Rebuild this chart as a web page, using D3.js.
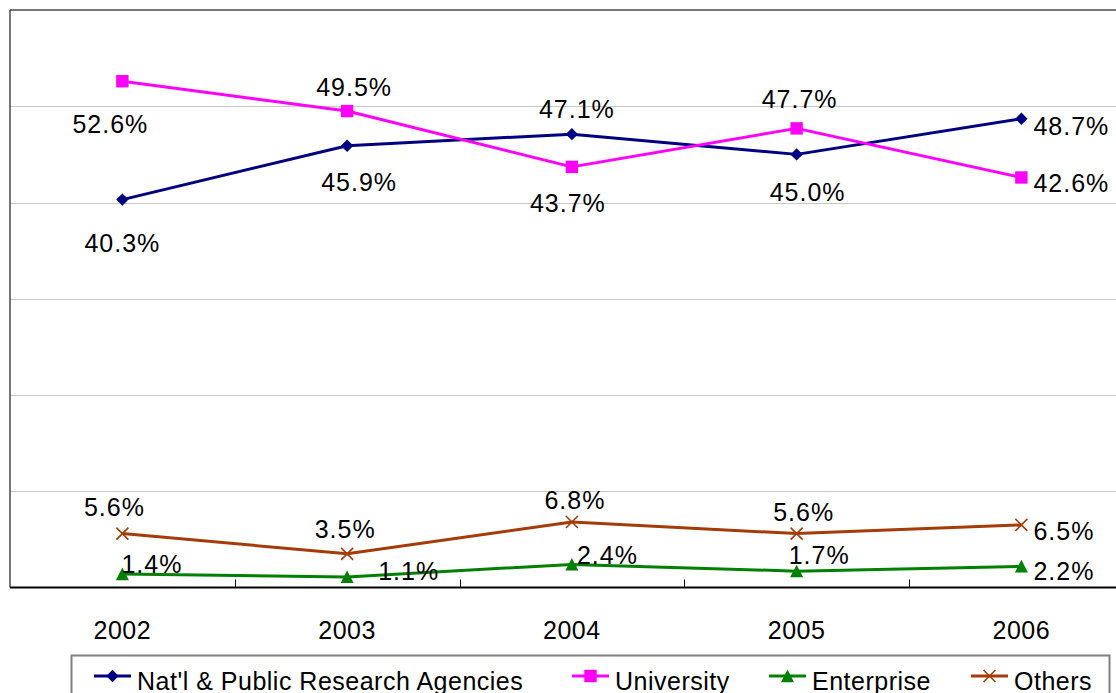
<!DOCTYPE html>
<html>
<head>
<meta charset="utf-8">
<script src="https://cdn.jsdelivr.net/npm/d3@7"></script>
<style>
  html, body { margin: 0; padding: 0; background: #fff; overflow: hidden; }
  svg { display: block; font-family: "Liberation Sans", Arial, sans-serif; }
</style>
</head>
<body>
<svg id="chart" width="1116" height="693"></svg>
<script>
// Share of research output by sector, 2002-2006 (percent)
const years = ["2002", "2003", "2004", "2005", "2006"];
const seriesNames = ["Nat'l & Public Research Agencies", "University", "Enterprise", "Others"];
const nationalValues = [40.3, 45.9, 47.1, 45.0, 48.7];
const universityValues = [52.6, 49.5, 43.7, 47.7, 42.6];
const enterpriseValues = [1.4, 1.1, 2.4, 1.7, 2.2];
const otherValues = [5.6, 3.5, 6.8, 5.6, 6.5];
const yTicks = [0, 10, 20, 30, 40, 50, 60];

const colors = ["#000080", "#FF00FF", "#008000", "#A33C08"];
const markers = ["diamond", "square", "triangle", "cross"];

// Label offsets relative to each point: [dx, dy, anchor]
const labelOffsets = [
  [[0, 52, "middle"], [12, 45, "middle"], [5, -16, "middle"], [11, 47, "middle"], [12, 16, "start"]],
  [[-12, 52, "middle"], [7, -15, "middle"], [-4, 45, "middle"], [3, -20, "middle"], [12, 15, "start"]],
  [[-1, -1, "start"], [31, 3, "start"], [5, 0, "start"], [-8, -7, "start"], [12, 14, "start"]],
  [[-8, -18, "middle"], [-2, -16, "middle"], [3, -13, "middle"], [7, -13, "middle"], [12, 15, "start"]]
];

const series = [nationalValues, universityValues, enterpriseValues, otherValues].map((values, i) => ({
  name: seriesNames[i], values, color: colors[i], marker: markers[i], offsets: labelOffsets[i]
}));

const svg = d3.select("#chart");
const plot = { left: 10, top: 10, bottom: 587.5, step: 224.75 };

const x = d3.scaleBand().domain(years).range([plot.left, plot.left + plot.step * years.length]).padding(0);
const cx = d => x(d) + x.bandwidth() / 2;
const y = d3.scaleLinear().domain([0, 60]).range([plot.bottom, plot.top]);

// Horizontal gridlines
svg.append("g").selectAll("line")
  .data(yTicks.filter(t => t > 0 && t < 60))
  .join("line")
  .attr("x1", plot.left).attr("x2", 1116)
  .attr("y1", d => Math.round(y(d)) + 0.5).attr("y2", d => Math.round(y(d)) + 0.5)
  .attr("stroke", "#c8c8c8").attr("stroke-width", 1);

// Plot frame: top and left edges
svg.append("line").attr("x1", plot.left).attr("x2", 1116)
  .attr("y1", y(60)).attr("y2", y(60)).attr("stroke", "#4a4a4a").attr("stroke-width", 1.5);
svg.append("line").attr("x1", plot.left).attr("x2", plot.left)
  .attr("y1", y(60)).attr("y2", plot.bottom).attr("stroke", "#4a4a4a").attr("stroke-width", 1.5);

// Category axis with inward ticks at band boundaries
const xAxis = svg.append("g").attr("transform", `translate(0,${plot.bottom})`);
xAxis.append("line").attr("x1", plot.left).attr("x2", 1116).attr("y1", 0).attr("y2", 0)
  .attr("stroke", "#000").attr("stroke-width", 2);
xAxis.selectAll("line.tick")
  .data(years.slice(1))
  .join("line").attr("class", "tick")
  .attr("x1", d => Math.round(x(d)) + 0.5).attr("x2", d => Math.round(x(d)) + 0.5)
  .attr("y1", 0).attr("y2", -8).attr("stroke", "#000").attr("stroke-width", 1);
xAxis.selectAll("text")
  .data(years)
  .join("text")
  .attr("x", d => cx(d)).attr("y", 51)
  .attr("text-anchor", "middle")
  .attr("font-size", 25).attr("letter-spacing", 0.5).attr("fill", "#000")
  .text(d => d);

// Marker shapes
function markerPath(type, s) {
  switch (type) {
    case "diamond": return `M0,${-s}L${s},0L0,${s}L${-s},0Z`;
    case "square": return `M${-s},${-s}H${s}V${s}H${-s}Z`;
    case "triangle": return `M0,${-s}L${s},${s * 0.95}L${-s},${s * 0.95}Z`;
    case "cross": return `M${-s},${-s}L${s},${s}M${s},${-s}L${-s},${s}`;
  }
}
function drawMarker(g, type, color) {
  const sizes = { diamond: 6.2, square: 6.2, triangle: 6.5, cross: 6 };
  const p = g.append("path").attr("d", markerPath(type, sizes[type]));
  if (type === "cross") p.attr("fill", "none").attr("stroke", color).attr("stroke-width", 1.6);
  else p.attr("fill", color).attr("stroke", "none");
}

const line = d3.line().x((d, i) => cx(years[i])).y(d => y(d));

series.forEach(s => {
  const g = svg.append("g");
  g.append("path").datum(s.values)
    .attr("d", line).attr("fill", "none")
    .attr("stroke", s.color).attr("stroke-width", 3).attr("stroke-linejoin", "round");
  s.values.forEach((v, i) => {
    const mg = g.append("g").attr("transform", `translate(${cx(years[i])},${y(v)})`);
    drawMarker(mg, s.marker, s.color);
  });
});

// Value labels
series.forEach(s => {
  svg.append("g").selectAll("text")
    .data(s.values)
    .join("text")
    .attr("x", (d, i) => cx(years[i]) + s.offsets[i][0])
    .attr("y", (d, i) => y(d) + s.offsets[i][1])
    .attr("text-anchor", (d, i) => s.offsets[i][2])
    .attr("font-size", 25).attr("letter-spacing", 1).attr("fill", "#000")
    .text(d => d.toFixed(1) + "%");
});

// Legend
const legend = svg.append("g");
legend.append("rect").attr("x", 71.5).attr("y", 655.5).attr("width", 1038).attr("height", 60)
  .attr("fill", "#fff").attr("stroke", "#808080").attr("stroke-width", 2);
const legendX = [94, 572, 769, 971];
series.forEach((s, i) => {
  const lg = legend.append("g").attr("transform", `translate(${legendX[i]},676)`);
  lg.append("line").attr("x1", 0).attr("x2", 37).attr("stroke", s.color).attr("stroke-width", 3);
  const mg = lg.append("g").attr("transform", "translate(18.5,0)");
  drawMarker(mg, s.marker, s.color);
  lg.append("text").attr("x", 43).attr("y", 14)
    .attr("font-size", 25).attr("letter-spacing", 0.5).attr("fill", "#000").text(s.name);
});
</script>
</body>
</html>
